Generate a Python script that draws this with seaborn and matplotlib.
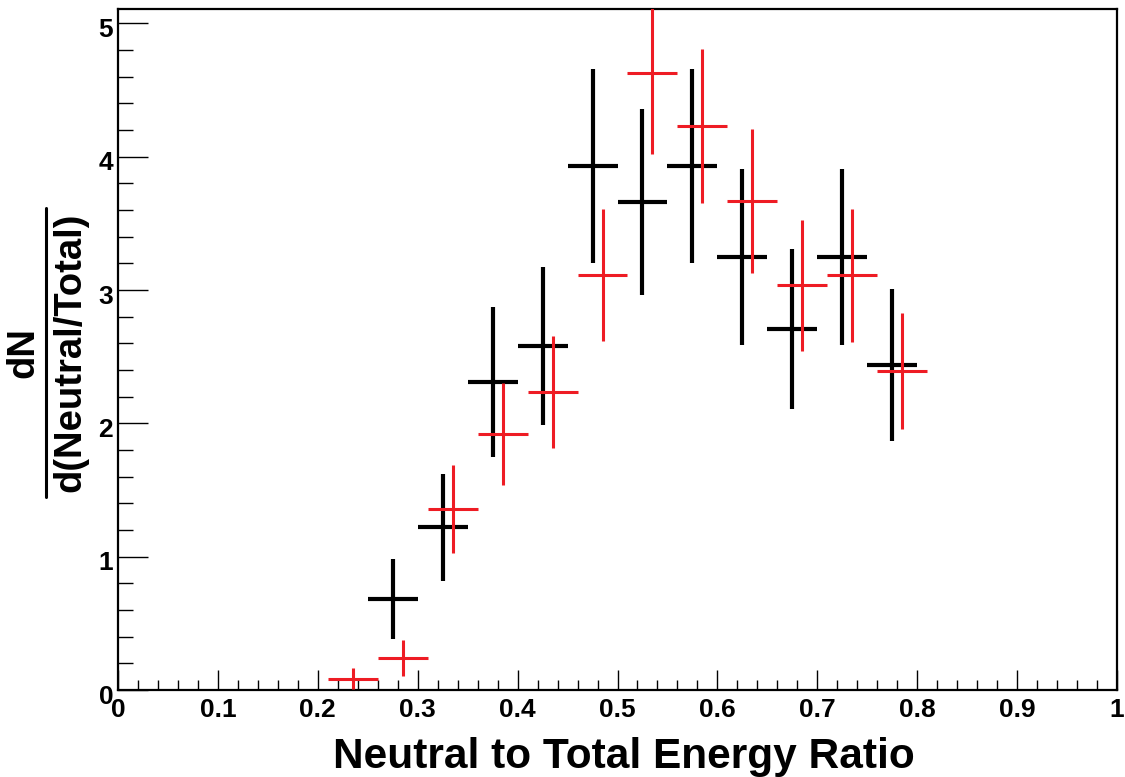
import matplotlib
matplotlib.use("Agg")
import matplotlib.pyplot as plt
import matplotlib.transforms as mtransforms
from matplotlib.lines import Line2D
from matplotlib.ticker import MultipleLocator, FixedLocator
import seaborn as sns
import numpy as np

# Neutral/total energy ratio distributions (bin width 0.05)
half_width = 0.025
black_x = [0.275, 0.325, 0.375, 0.425, 0.475, 0.525, 0.575, 0.625, 0.675, 0.725, 0.775]
black_y = [0.68, 1.22, 2.31, 2.58, 3.93, 3.66, 3.93, 3.25, 2.71, 3.25, 2.44]
black_err = [0.30, 0.40, 0.56, 0.59, 0.725, 0.70, 0.725, 0.66, 0.60, 0.66, 0.57]

red_x = [0.235, 0.285, 0.335, 0.385, 0.435, 0.485, 0.535, 0.585, 0.635, 0.685, 0.735, 0.785]
red_y = [0.085, 0.24, 1.36, 1.92, 2.235, 3.11, 4.63, 4.23, 3.67, 3.035, 3.11, 2.395]
red_err = [0.08, 0.135, 0.33, 0.385, 0.42, 0.495, 0.61, 0.58, 0.54, 0.49, 0.50, 0.435]

x_ticks = [0, 0.1, 0.2, 0.3, 0.4, 0.5, 0.6, 0.7, 0.8, 0.9, 1]
x_tick_labels = ["0", "0.1", "0.2", "0.3", "0.4", "0.5", "0.6", "0.7", "0.8", "0.9", "1"]
y_ticks = [0, 1, 2, 3, 4, 5]
y_tick_labels = ["0", "1", "2", "3", "4", "5"]

sns.set_theme(style="white")
plt.rcParams["font.family"] = ["Liberation Sans", "DejaVu Sans"]
plt.rcParams["font.weight"] = "bold"

W, H = 1125, 777
fig = plt.figure(figsize=(W / 100, H / 100), dpi=100)
fig.patch.set_facecolor("white")
ax = fig.add_axes([118 / W, 1 - 690 / H, (1117 - 118) / W, (690 - 9) / H])
ax.set_facecolor("white")

ax.errorbar(black_x, black_y, xerr=half_width, yerr=black_err, fmt="none",
            ecolor="black", elinewidth=3.0, capsize=0, zorder=3)
ax.errorbar(red_x, red_y, xerr=half_width, yerr=red_err, fmt="none",
            ecolor="#ee1c24", elinewidth=2.2, capsize=0, zorder=4)

ax.set_xlim(0, 1)
ax.set_ylim(0, 5.1075)

ax.xaxis.set_major_locator(FixedLocator(x_ticks))
ax.set_xticklabels(x_tick_labels)
ax.xaxis.set_minor_locator(MultipleLocator(0.02))
ax.yaxis.set_major_locator(FixedLocator(y_ticks))
ax.set_yticklabels(y_tick_labels)
ax.yaxis.set_minor_locator(MultipleLocator(0.2))

ax.tick_params(axis="x", which="major", direction="in", length=14.4, width=1.0,
               color="black", labelsize=19, pad=6, bottom=True, top=False)
ax.tick_params(axis="x", which="minor", direction="in", length=7.2, width=1.0,
               color="black", bottom=True, top=False)
ax.tick_params(axis="y", which="major", direction="in", length=21.6, width=1.0,
               color="black", labelsize=19, pad=3.5, left=True, right=False)
ax.tick_params(axis="y", which="minor", direction="in", length=10.8, width=1.0,
               color="black", left=True, right=False)

# y tick labels sit a little below their ticks
shift_down = mtransforms.ScaledTranslation(0, -4 / 100, fig.dpi_scale_trans)
for lbl in ax.get_yticklabels():
    lbl.set_transform(lbl.get_transform() + shift_down)
for lbl in ax.get_xticklabels() + ax.get_yticklabels():
    lbl.set_fontweight("bold")
    lbl.set_color("black")

for side in ["left", "bottom", "right", "top"]:
    ax.spines[side].set_visible(True)
    ax.spines[side].set_color("black")
    ax.spines[side].set_linewidth(1.6)

# Axis titles
fig.text(624 / W, 1 - 768 / H, "Neutral to Total Energy Ratio", ha="center",
         va="baseline", fontsize=30.5, fontweight="bold", color="black")

frac_center_y = 1 - 352 / H
fig.text(33 / W, frac_center_y, "dN", rotation=90, rotation_mode="anchor",
         ha="center", va="baseline", fontsize=27.5, fontweight="bold", color="black")
fig.text(80 / W, frac_center_y, "d(Neutral/Total)", rotation=90, rotation_mode="anchor",
         ha="center", va="baseline", fontsize=27.5, fontweight="bold", color="black")
fig.add_artist(Line2D([46 / W, 46 / W], [1 - 497 / H, 1 - 208 / H],
                      transform=fig.transFigure, color="black", linewidth=2.2))

fig.savefig("out.png", dpi=100, facecolor="white")
